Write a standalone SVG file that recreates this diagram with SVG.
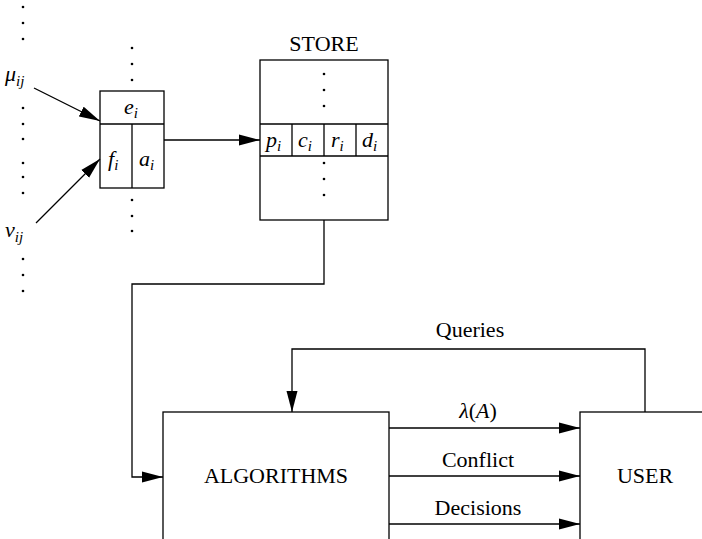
<svg xmlns="http://www.w3.org/2000/svg" width="702" height="539" viewBox="0 0 702 539" font-family="'Liberation Serif', 'Times New Roman', 'DejaVu Serif', 'Noto Serif', serif">
<defs>
<marker id="ah" markerWidth="22" markerHeight="12" refX="21" refY="6" orient="auto" markerUnits="userSpaceOnUse">
<path d="M0,0.5 L21,6 L0,11.5 Z" fill="#000"/>
</marker>
</defs>
<style>
.box{fill:#fff;stroke:#000;stroke-width:1.3}
.ln{fill:none;stroke:#000;stroke-width:1.3}
.t{font-size:22px;fill:#000}
.m{font-size:22px;font-style:italic;fill:#000}
.s{font-size:15px}
.d{fill:#000}
</style>
<rect width="702" height="539" fill="#fff"/>
<g id="dots" class="d">
<circle cx="23" cy="7" r="1.3"/><circle cx="23" cy="23" r="1.3"/><circle cx="23" cy="39" r="1.3"/>
<circle cx="23" cy="108" r="1.3"/><circle cx="23" cy="124" r="1.3"/><circle cx="23" cy="139" r="1.3"/>
<circle cx="23" cy="163" r="1.3"/><circle cx="23" cy="177" r="1.3"/><circle cx="23" cy="193" r="1.3"/>
<circle cx="23" cy="259" r="1.3"/><circle cx="23" cy="275" r="1.3"/><circle cx="23" cy="291" r="1.3"/>
<circle cx="132" cy="48" r="1.3"/><circle cx="132" cy="64" r="1.3"/><circle cx="132" cy="80" r="1.3"/>
<circle cx="132" cy="200" r="1.3"/><circle cx="132" cy="216" r="1.3"/><circle cx="132" cy="231" r="1.3"/>
</g>
<g id="mu"><text class="m" x="5" y="81">μ<tspan class="s" dy="5">ij</tspan></text></g>
<g id="nu"><text class="m" x="5" y="237">ν<tspan class="s" dy="5">ij</tspan></text></g>
<g id="entity">
<rect class="box" x="100" y="91" width="64" height="97"/>
<line class="ln" x1="100" y1="124" x2="164" y2="124"/>
<line class="ln" x1="132" y1="124" x2="132" y2="188"/>
<text class="m" x="124" y="114">e<tspan class="s" dy="4">i</tspan></text>
<text class="m" x="108" y="166">f<tspan class="s" dy="4">i</tspan></text>
<text class="m" x="139" y="166">a<tspan class="s" dy="4">i</tspan></text>
</g>
<g id="store">
<text class="t" x="324" y="51" text-anchor="middle">STORE</text>
<rect class="box" x="260" y="60" width="128" height="160"/>
<line class="ln" x1="260" y1="124" x2="388" y2="124"/>
<line class="ln" x1="260" y1="156" x2="388" y2="156"/>
<line class="ln" x1="292" y1="124" x2="292" y2="156"/>
<line class="ln" x1="324" y1="124" x2="324" y2="156"/>
<line class="ln" x1="356" y1="124" x2="356" y2="156"/>
<g class="d">
<circle cx="324" cy="74" r="1.3"/><circle cx="324" cy="90" r="1.3"/><circle cx="324" cy="106" r="1.3"/>
<circle cx="324" cy="163" r="1.3"/><circle cx="324" cy="179" r="1.3"/><circle cx="324" cy="195" r="1.3"/>
</g>
<text class="m" x="266" y="147">p<tspan class="s" dy="4">i</tspan></text>
<text class="m" x="298" y="147">c<tspan class="s" dy="4">i</tspan></text>
<text class="m" x="331" y="147">r<tspan class="s" dy="4">i</tspan></text>
<text class="m" x="362" y="147">d<tspan class="s" dy="4">i</tspan></text>
</g>
<g id="algorithms">
<rect class="box" x="163" y="412" width="226" height="140"/>
<text class="t" x="276" y="483" text-anchor="middle">ALGORITHMS</text>
</g>
<g id="user">
<rect class="box" x="580" y="412" width="140" height="140"/>
<text class="t" x="645" y="483" text-anchor="middle">USER</text>
</g>
<g id="connectors">
<line class="ln" x1="34" y1="88" x2="100" y2="121" marker-end="url(#ah)"/>
<line class="ln" x1="36" y1="223" x2="100" y2="159" marker-end="url(#ah)"/>
<line class="ln" x1="164" y1="140" x2="260" y2="140" marker-end="url(#ah)"/>
<polyline class="ln" points="324,220 324,284 132,284 132,477 163,477" marker-end="url(#ah)"/>
<polyline class="ln" points="645,412 645,349 292,349 292,412" marker-end="url(#ah)"/>
<line class="ln" x1="389" y1="428" x2="580" y2="428" marker-end="url(#ah)"/>
<line class="ln" x1="389" y1="476" x2="580" y2="476" marker-end="url(#ah)"/>
<line class="ln" x1="389" y1="524" x2="580" y2="524" marker-end="url(#ah)"/>
<text class="t" x="470" y="337" text-anchor="middle">Queries</text>
<text class="t" x="478" y="418" text-anchor="middle"><tspan font-style="italic">λ</tspan>(<tspan font-style="italic">A</tspan>)</text>
<text class="t" x="478" y="467" text-anchor="middle">Conflict</text>
<text class="t" x="478" y="515" text-anchor="middle">Decisions</text>
</g>
</svg>
